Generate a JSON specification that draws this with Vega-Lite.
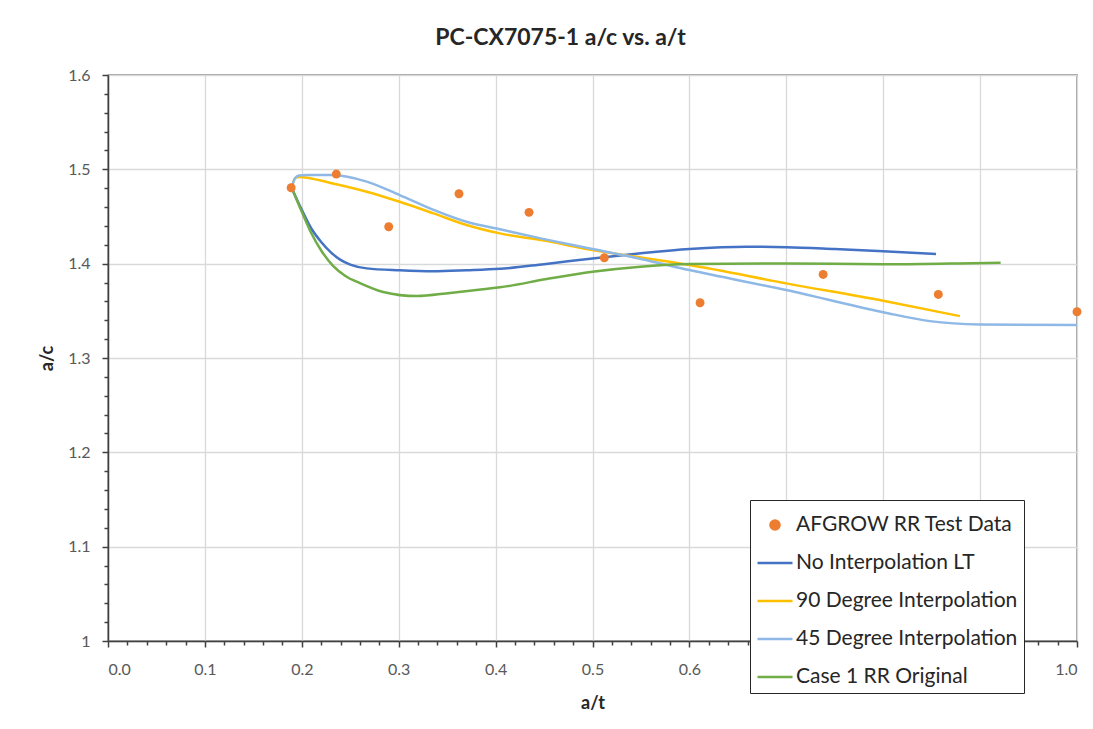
{
  "$schema": "https://vega.github.io/schema/vega-lite/v6.json",
  "width": 969,
  "height": 566,
  "autosize": "none",
  "padding": {"left": 108, "top": 75, "right": 16, "bottom": 88},
  "background": "white",
  "config": {
    "font": "Lato",
    "view": {"stroke": "#404040", "strokeWidth": 1.3},
    "axis": {
      "domainColor": "#404040", "domainWidth": 1.5,
      "tickColor": "#404040", "tickWidth": 1.5,
      "labelFont": "Lato", "labelFontSize": 16, "labelColor": "#595959",
      "titleFont": "Lato", "titleFontSize": 18, "titleFontWeight": "bold", "titleColor": "#262626",
      "gridColor": "#d9d9d9", "gridWidth": 1.3
    }
  },
  "title": {
    "text": "PC-CX7075-1 a/c vs. a/t",
    "font": "Lato", "fontSize": 23, "fontWeight": "bold", "color": "#262626",
    "anchor": "middle", "baseline": "middle", "offset": 6, "dx": -32
  },
  "datasets": {
    "curves": [
      {"series": "No Interpolation LT", "a_t": 0.1895, "a_c": 1.4805},
      {"series": "No Interpolation LT", "a_t": 0.2, "a_c": 1.457},
      {"series": "No Interpolation LT", "a_t": 0.21, "a_c": 1.437},
      {"series": "No Interpolation LT", "a_t": 0.22, "a_c": 1.423},
      {"series": "No Interpolation LT", "a_t": 0.23, "a_c": 1.412},
      {"series": "No Interpolation LT", "a_t": 0.24, "a_c": 1.404},
      {"series": "No Interpolation LT", "a_t": 0.25, "a_c": 1.399},
      {"series": "No Interpolation LT", "a_t": 0.267, "a_c": 1.395},
      {"series": "No Interpolation LT", "a_t": 0.301, "a_c": 1.393},
      {"series": "No Interpolation LT", "a_t": 0.335, "a_c": 1.392},
      {"series": "No Interpolation LT", "a_t": 0.37, "a_c": 1.393},
      {"series": "No Interpolation LT", "a_t": 0.4045, "a_c": 1.3945},
      {"series": "No Interpolation LT", "a_t": 0.45, "a_c": 1.3995},
      {"series": "No Interpolation LT", "a_t": 0.5, "a_c": 1.4056},
      {"series": "No Interpolation LT", "a_t": 0.55, "a_c": 1.411},
      {"series": "No Interpolation LT", "a_t": 0.6, "a_c": 1.4155},
      {"series": "No Interpolation LT", "a_t": 0.659, "a_c": 1.418},
      {"series": "No Interpolation LT", "a_t": 0.7, "a_c": 1.4175},
      {"series": "No Interpolation LT", "a_t": 0.75, "a_c": 1.4155},
      {"series": "No Interpolation LT", "a_t": 0.8, "a_c": 1.4132},
      {"series": "No Interpolation LT", "a_t": 0.8545, "a_c": 1.4102},
      {"series": "90 Degree Interpolation", "a_t": 0.1895, "a_c": 1.4805},
      {"series": "90 Degree Interpolation", "a_t": 0.193, "a_c": 1.4905},
      {"series": "90 Degree Interpolation", "a_t": 0.197, "a_c": 1.492},
      {"series": "90 Degree Interpolation", "a_t": 0.232, "a_c": 1.485},
      {"series": "90 Degree Interpolation", "a_t": 0.267, "a_c": 1.4763},
      {"series": "90 Degree Interpolation", "a_t": 0.301, "a_c": 1.4656},
      {"series": "90 Degree Interpolation", "a_t": 0.336, "a_c": 1.4533},
      {"series": "90 Degree Interpolation", "a_t": 0.37, "a_c": 1.441},
      {"series": "90 Degree Interpolation", "a_t": 0.4045, "a_c": 1.4321},
      {"series": "90 Degree Interpolation", "a_t": 0.45, "a_c": 1.4245},
      {"series": "90 Degree Interpolation", "a_t": 0.5, "a_c": 1.4144},
      {"series": "90 Degree Interpolation", "a_t": 0.55, "a_c": 1.4065},
      {"series": "90 Degree Interpolation", "a_t": 0.6, "a_c": 1.3985},
      {"series": "90 Degree Interpolation", "a_t": 0.7, "a_c": 1.3791},
      {"series": "90 Degree Interpolation", "a_t": 0.8, "a_c": 1.3607},
      {"series": "90 Degree Interpolation", "a_t": 0.8792, "a_c": 1.3444},
      {"series": "45 Degree Interpolation", "a_t": 0.1895, "a_c": 1.4805},
      {"series": "45 Degree Interpolation", "a_t": 0.193, "a_c": 1.4905},
      {"series": "45 Degree Interpolation", "a_t": 0.197, "a_c": 1.4935},
      {"series": "45 Degree Interpolation", "a_t": 0.205, "a_c": 1.494},
      {"series": "45 Degree Interpolation", "a_t": 0.232, "a_c": 1.494},
      {"series": "45 Degree Interpolation", "a_t": 0.267, "a_c": 1.487},
      {"series": "45 Degree Interpolation", "a_t": 0.301, "a_c": 1.4727},
      {"series": "45 Degree Interpolation", "a_t": 0.336, "a_c": 1.457},
      {"series": "45 Degree Interpolation", "a_t": 0.37, "a_c": 1.4444},
      {"series": "45 Degree Interpolation", "a_t": 0.4045, "a_c": 1.4364},
      {"series": "45 Degree Interpolation", "a_t": 0.45, "a_c": 1.426},
      {"series": "45 Degree Interpolation", "a_t": 0.5, "a_c": 1.4155},
      {"series": "45 Degree Interpolation", "a_t": 0.55, "a_c": 1.405},
      {"series": "45 Degree Interpolation", "a_t": 0.6, "a_c": 1.3932},
      {"series": "45 Degree Interpolation", "a_t": 0.7, "a_c": 1.372},
      {"series": "45 Degree Interpolation", "a_t": 0.8, "a_c": 1.3485},
      {"series": "45 Degree Interpolation", "a_t": 0.848, "a_c": 1.3391},
      {"series": "45 Degree Interpolation", "a_t": 0.9, "a_c": 1.3356},
      {"series": "45 Degree Interpolation", "a_t": 1.0, "a_c": 1.3349},
      {"series": "Case 1 RR Original", "a_t": 0.1895, "a_c": 1.4805},
      {"series": "Case 1 RR Original", "a_t": 0.2, "a_c": 1.455},
      {"series": "Case 1 RR Original", "a_t": 0.21, "a_c": 1.432},
      {"series": "Case 1 RR Original", "a_t": 0.22, "a_c": 1.414},
      {"series": "Case 1 RR Original", "a_t": 0.232, "a_c": 1.398},
      {"series": "Case 1 RR Original", "a_t": 0.245, "a_c": 1.387},
      {"series": "Case 1 RR Original", "a_t": 0.26, "a_c": 1.3794},
      {"series": "Case 1 RR Original", "a_t": 0.284, "a_c": 1.37},
      {"series": "Case 1 RR Original", "a_t": 0.3186, "a_c": 1.3656},
      {"series": "Case 1 RR Original", "a_t": 0.353, "a_c": 1.369},
      {"series": "Case 1 RR Original", "a_t": 0.387, "a_c": 1.373},
      {"series": "Case 1 RR Original", "a_t": 0.4045, "a_c": 1.3749},
      {"series": "Case 1 RR Original", "a_t": 0.4527, "a_c": 1.3837},
      {"series": "Case 1 RR Original", "a_t": 0.5, "a_c": 1.3914},
      {"series": "Case 1 RR Original", "a_t": 0.5525, "a_c": 1.3971},
      {"series": "Case 1 RR Original", "a_t": 0.6, "a_c": 1.3996},
      {"series": "Case 1 RR Original", "a_t": 0.7, "a_c": 1.4003},
      {"series": "Case 1 RR Original", "a_t": 0.8, "a_c": 1.3995},
      {"series": "Case 1 RR Original", "a_t": 0.87, "a_c": 1.4002},
      {"series": "Case 1 RR Original", "a_t": 0.9212, "a_c": 1.401}
    ],
    "test": [
      {"series": "AFGROW RR Test Data", "a_t": 0.189, "a_c": 1.4805},
      {"series": "AFGROW RR Test Data", "a_t": 0.2356, "a_c": 1.495},
      {"series": "AFGROW RR Test Data", "a_t": 0.2897, "a_c": 1.4391},
      {"series": "AFGROW RR Test Data", "a_t": 0.3622, "a_c": 1.4741},
      {"series": "AFGROW RR Test Data", "a_t": 0.4345, "a_c": 1.4544},
      {"series": "AFGROW RR Test Data", "a_t": 0.5122, "a_c": 1.4063},
      {"series": "AFGROW RR Test Data", "a_t": 0.611, "a_c": 1.3586},
      {"series": "AFGROW RR Test Data", "a_t": 0.738, "a_c": 1.3886},
      {"series": "AFGROW RR Test Data", "a_t": 0.8569, "a_c": 1.3674},
      {"series": "AFGROW RR Test Data", "a_t": 1.0, "a_c": 1.349}
    ]
  },
  "layer": [
    {
      "data": {"name": "curves"},
      "mark": {"type": "line", "interpolate": "monotone", "strokeWidth": 2.5},
      "encoding": {
        "x": {
          "field": "a_t", "type": "quantitative",
          "scale": {"domain": [0, 1], "nice": false, "zero": false},
          "axis": {
            "orient": "bottom", "title": "a/t",
            "values": [0, 0.1, 0.2, 0.3, 0.4, 0.5, 0.6, 0.7, 0.8, 0.9, 1.0],
            "format": ".1f", "grid": true, "tickSize": 6, "labelPadding": 14, "titlePadding": 17
          }
        },
        "y": {
          "field": "a_c", "type": "quantitative",
          "scale": {"domain": [1, 1.6], "nice": false, "zero": false},
          "axis": {
            "orient": "left", "title": "a/c",
            "values": [1, 1.1, 1.2, 1.3, 1.4, 1.5, 1.6],
            "format": "~g", "grid": true, "tickSize": 6, "labelPadding": 12, "titlePadding": 11
          }
        },
        "color": {
          "field": "series", "type": "nominal",
          "scale": {
            "domain": ["AFGROW RR Test Data", "No Interpolation LT", "90 Degree Interpolation", "45 Degree Interpolation", "Case 1 RR Original"],
            "range": ["#ED7D31", "#4472C4", "#FFC000", "#8EB8E5", "#70AD47"]
          },
          "legend": {
            "orient": "none", "legendX": 642, "legendY": 425, "title": null,
            "labelFont": "Lato", "labelFontSize": 21, "labelColor": "#262626", "labelLimit": 400,
            "strokeColor": "#262626", "fillColor": "white",
            "padding": 6, "rowPadding": 9, "labelOffset": 2,
            "symbolSize": 1225, "symbolStrokeWidth": 2.5, "symbolOffset": 0,
            "encode": {
              "symbols": {
                "update": {
                  "shape": {"signal": "datum.value === 'AFGROW RR Test Data' ? 'M-0.26,0A0.26,0.26,0,1,0,0.26,0A0.26,0.26,0,1,0,-0.26,0Z' : 'M-1,0L1,0'"},
                  "fill": {"scale": "color", "field": "value"},
                  "stroke": {"scale": "color", "field": "value"},
                  "strokeWidth": {"value": 2.5},
                  "size": {"value": 1225}
                }
              }
            }
          }
        }
      }
    },
    {
      "data": {"name": "test"},
      "mark": {"type": "point", "filled": true, "size": 80, "opacity": 1},
      "encoding": {
        "x": {
          "field": "a_t", "type": "quantitative",
          "scale": {"domain": [0, 1], "nice": false, "zero": false},
          "axis": {
            "orient": "bottom", "title": null, "labels": false, "grid": false, "domain": false,
            "tickSize": 4,
            "values": [0.02, 0.04, 0.06, 0.08, 0.12, 0.14, 0.16, 0.18, 0.22, 0.24, 0.26, 0.28, 0.32, 0.34, 0.36, 0.38, 0.42, 0.44, 0.46, 0.48, 0.52, 0.54, 0.56, 0.58, 0.62, 0.64, 0.66, 0.68, 0.72, 0.74, 0.76, 0.78, 0.82, 0.84, 0.86, 0.88, 0.92, 0.94, 0.96, 0.98]
          }
        },
        "y": {
          "field": "a_c", "type": "quantitative",
          "scale": {"domain": [1, 1.6], "nice": false, "zero": false},
          "axis": {
            "orient": "left", "title": null, "labels": false, "grid": false, "domain": false,
            "tickSize": 4,
            "values": [1.02, 1.04, 1.06, 1.08, 1.12, 1.14, 1.16, 1.18, 1.22, 1.24, 1.26, 1.28, 1.32, 1.34, 1.36, 1.38, 1.42, 1.44, 1.46, 1.48, 1.52, 1.54, 1.56, 1.58]
          }
        },
        "color": {
          "field": "series", "type": "nominal",
          "scale": {
            "domain": ["AFGROW RR Test Data", "No Interpolation LT", "90 Degree Interpolation", "45 Degree Interpolation", "Case 1 RR Original"],
            "range": ["#ED7D31", "#4472C4", "#FFC000", "#8EB8E5", "#70AD47"]
          },
          "legend": {
            "orient": "none", "legendX": 642, "legendY": 425, "title": null,
            "labelFont": "Lato", "labelFontSize": 21, "labelColor": "#262626", "labelLimit": 400,
            "strokeColor": "#262626", "fillColor": "white",
            "padding": 6, "rowPadding": 9, "labelOffset": 2,
            "symbolSize": 1225, "symbolStrokeWidth": 2.5, "symbolOffset": 0,
            "encode": {
              "symbols": {
                "update": {
                  "shape": {"signal": "datum.value === 'AFGROW RR Test Data' ? 'M-0.26,0A0.26,0.26,0,1,0,0.26,0A0.26,0.26,0,1,0,-0.26,0Z' : 'M-1,0L1,0'"},
                  "fill": {"scale": "color", "field": "value"},
                  "stroke": {"scale": "color", "field": "value"},
                  "strokeWidth": {"value": 2.5},
                  "size": {"value": 1225}
                }
              }
            }
          }
        }
      }
    }
  ],
  "resolve": {"axis": {"x": "independent", "y": "independent"}}
}
